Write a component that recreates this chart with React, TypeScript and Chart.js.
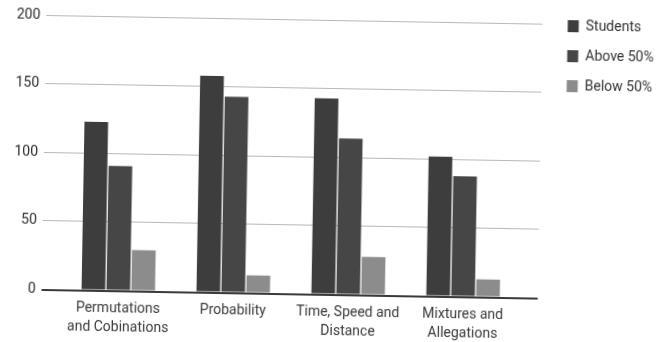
import React, { useEffect, useRef } from 'react';
import { Chart, registerables } from 'chart.js';

Chart.register(...registerables);

const categories: (string | string[])[] = [
  ['Permutations', 'and Cobinations'],
  'Probability',
  ['Time, Speed and', 'Distance'],
  ['Mixtures and', 'Allegations'],
];
const seriesNames = ['Students', 'Above 50%', 'Below 50%'];
const students = [123, 158, 143, 102];
const above50 = [91, 143, 114, 88];
const below50 = [30, 13, 28, 13];
const yTickValues = [0, 50, 100, 150, 200];

const FONT = 'Roboto, "Noto Sans", sans-serif';

export default function App() {
  const ref = useRef<HTMLCanvasElement | null>(null);

  useEffect(() => {
    if (!ref.current) return;
    const toPoints = (arr: number[]) => arr.map((v, i) => ({ x: i, y: v }));
    const chart = new Chart(ref.current, {
      type: 'bar',
      data: {
        datasets: [
          { label: seriesNames[0], data: toPoints(students), backgroundColor: '#3d3d3d', borderWidth: 0 },
          { label: seriesNames[1], data: toPoints(above50), backgroundColor: '#464646', borderWidth: 0 },
          { label: seriesNames[2], data: toPoints(below50), backgroundColor: '#8c8c8c', borderWidth: 0 },
        ],
      },
      options: {
        responsive: false,
        animation: false,
        devicePixelRatio: 1,
        layout: { padding: { top: -6, left: 0, right: 8.6, bottom: 0 } },
        datasets: { bar: { categoryPercentage: 0.65, barPercentage: 0.95 } },
        plugins: {
          tooltip: { enabled: false },
          legend: {
            position: 'right',
            align: 'start',
            labels: {
              boxWidth: 11,
              boxHeight: 12,
              padding: 16,
              color: '#333',
              font: { family: FONT, size: 14 },
            },
          },
        },
        scales: {
          x: {
            type: 'linear',
            offset: false,
            min: -0.6675,
            max: 3.65,
            grid: { display: false, drawTicks: false, offset: false },
            border: { display: false },
            afterBuildTicks: (scale: any) => {
              scale.ticks = categories.map((_, i) => ({ value: i }));
            },
            afterFit: (scale: any) => {
              scale.height = 52.5;
            },
            ticks: {
              autoSkip: false,
              maxRotation: 0,
              minRotation: 0,
              padding: 8,
              color: '#3a3a3a',
              font: { family: FONT, size: 14, lineHeight: 1.38 },
              callback: (value: any) => categories[value as number] as any,
            },
          },
          y: {
            min: 0,
            max: 200,
            afterBuildTicks: (scale: any) => {
              scale.ticks = yTickValues.map((v) => ({ value: v }));
            },
            afterFit: (scale: any) => {
              scale.width = 44;
            },
            grid: {
              drawTicks: false,
              color: (ctx: any) => (ctx.tick && ctx.tick.value === 0 ? '#3a3a3a' : '#b8b8b8'),
              lineWidth: (ctx: any) => (ctx.tick && ctx.tick.value === 0 ? 2 : 1),
            },
            border: { display: false },
            ticks: {
              padding: 6,
              color: '#2a2a2a',
              font: { family: FONT, size: 14, lineHeight: 1.357 },
            },
          },
          yR: {
            type: 'linear',
            position: 'right',
            display: true,
            grid: { display: false, drawTicks: false },
            border: { display: false },
            ticks: { display: false },
            afterFit: (scale: any) => {
              scale.width = 9.3;
            },
          },
        },
      } as any,
    });
    return () => chart.destroy();
  }, []);

  return (
    <div
      style={{
        position: 'fixed',
        left: 0,
        top: 0,
        width: 668,
        height: 342,
        background: '#fff',
        transform: 'rotate(1deg)',
        transformOrigin: '45px 150px',
      }}
    >
      <canvas ref={ref} width={668} height={342} style={{ display: 'block', width: 668, height: 342 }} />
    </div>
  );
}
